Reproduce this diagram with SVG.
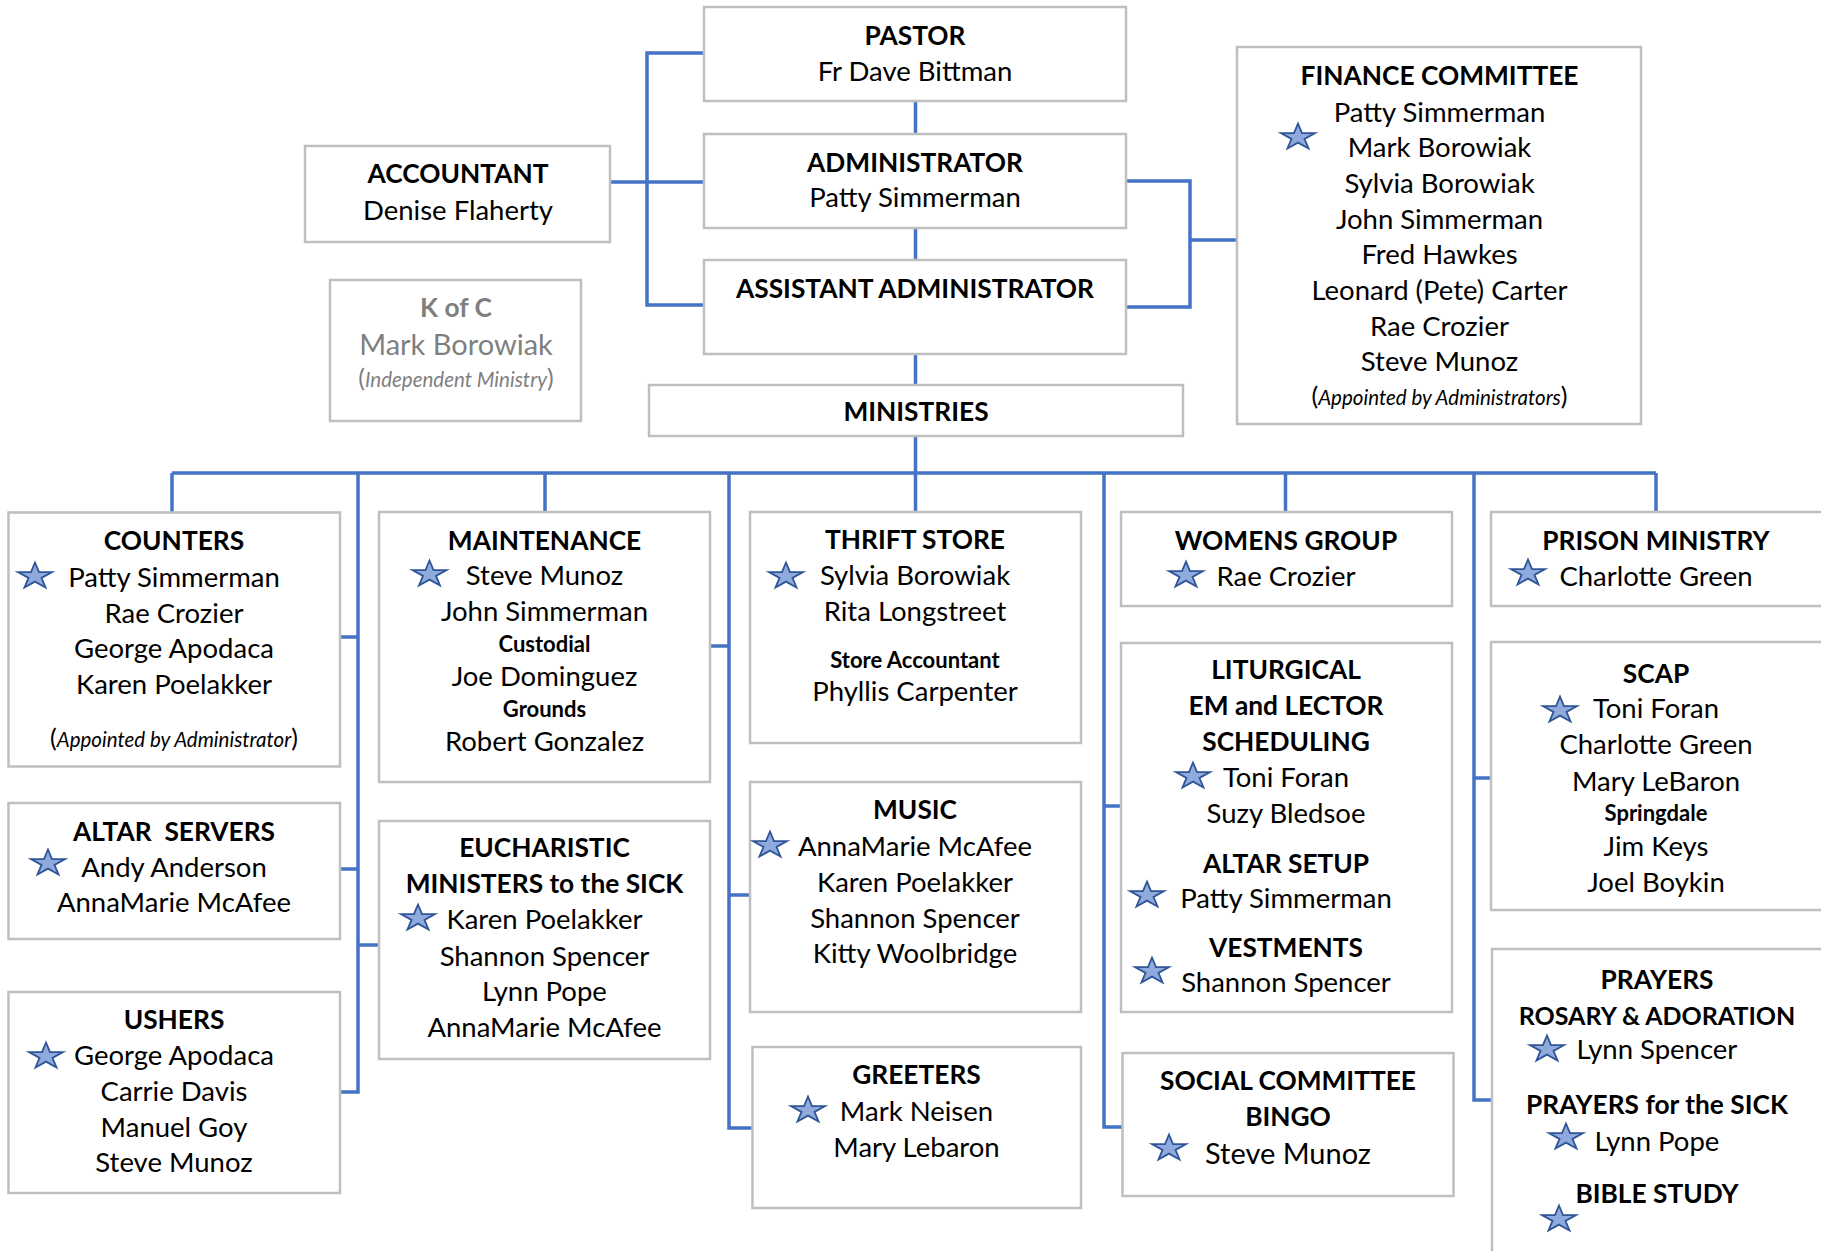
<svg xmlns="http://www.w3.org/2000/svg" xmlns:xlink="http://www.w3.org/1999/xlink" width="1821" height="1251" viewBox="0 0 1821 1251">
<style>
.t{font-family:Lato,"Open Sans","Liberation Sans",sans-serif;font-size:27.5px;fill:#000;text-anchor:middle}
.b{font-weight:bold;font-size:26.3px}
.sb{font-weight:bold;font-size:22px}
.it{font-style:italic;font-size:20.5px}
.par{font-style:normal;font-size:25px}
.g{fill:#7F7F7F}
.box{fill:#fff;stroke:#BFBFBF;stroke-width:2.5}
.ln{stroke:#4472C4;stroke-width:3.5;fill:none}
.star{fill:#8FAADC;stroke:#2F5597;stroke-width:1.8;stroke-linejoin:miter}
</style>
<defs>
<path id="star" class="star" d="M0,-12.5 L4,-2.95 L17,-2.95 L6.5,2.95 L10.5,12.5 L0,6.6 L-10.5,12.5 L-6.5,2.95 L-17,-2.95 L-4,-2.95 Z"/>
</defs>
<rect width="1821" height="1251" fill="#fff"/>

<g id="connectors">
<path class="ln" d="M704,53 H647 V305 H704"/>
<path class="ln" d="M610,182 H704"/>
<path class="ln" d="M915.5,101 V134 M915.5,228 V260 M915.5,354 V385 M915.5,436 V512"/>
<path class="ln" d="M1126,181 H1190 V307 H1126 M1190,240 H1237"/>
<path class="ln" d="M172,473 H1656 M172,473 V512 M545,473 V512 M1285.5,473 V512 M1656,473 V512"/>
<path class="ln" d="M358,473 V1092 H340 M340,637 H358 M340,869 H358 M358,945 H379"/>
<path class="ln" d="M729,473 V1128 H752 M710,646 H729 M729,895 H750"/>
<path class="ln" d="M1104,473 V1127 H1122 M1104,806 H1121"/>
<path class="ln" d="M1474,473 V1100 H1492 M1474,778 H1491"/>
</g>

<g id="pastor">
<rect class="box" x="704" y="7" width="422" height="94"/>
<text class="t b" x="915" y="45">PASTOR</text>
<text class="t" x="915" y="81">Fr Dave Bittman</text>
</g>
<g id="administrator">
<rect class="box" x="704" y="134" width="422" height="94"/>
<text class="t b" x="915" y="172">ADMINISTRATOR</text>
<text class="t" x="915" y="207">Patty Simmerman</text>
</g>
<g id="assistant-administrator">
<rect class="box" x="704" y="260" width="422" height="94"/>
<text class="t b" x="915" y="298">ASSISTANT ADMINISTRATOR</text>
</g>
<g id="ministries">
<rect class="box" x="649" y="385" width="534" height="51"/>
<text class="t b" x="916" y="421">MINISTRIES</text>
</g>
<g id="accountant">
<rect class="box" x="305" y="146" width="305" height="96"/>
<text class="t b" x="458" y="183">ACCOUNTANT</text>
<text class="t" x="458" y="220">Denise Flaherty</text>
</g>
<g id="k-of-c">
<rect class="box" x="330" y="280" width="251" height="141"/>
<text class="t b g" x="456" y="317">K of C</text>
<text class="t g" x="456" y="355" style="font-size:29px">Mark Borowiak</text>
<text class="t it g" x="456" y="387"><tspan class="par">(</tspan>Independent Ministry<tspan class="par">)</tspan></text>
</g>
<g id="finance-committee">
<rect class="box" x="1237" y="47" width="404" height="377"/>
<text class="t b" x="1439.5" y="85">FINANCE COMMITTEE</text>
<text class="t" x="1439.5" y="121.5">Patty Simmerman</text>
<text class="t" x="1439.5" y="157">Mark Borowiak</text>
<text class="t" x="1439.5" y="193">Sylvia Borowiak</text>
<text class="t" x="1439.5" y="229">John Simmerman</text>
<text class="t" x="1439.5" y="264">Fred Hawkes</text>
<text class="t" x="1439.5" y="300">Leonard (Pete) Carter</text>
<text class="t" x="1439.5" y="335.5">Rae Crozier</text>
<text class="t" x="1439.5" y="371">Steve Munoz</text>
<text class="t it" x="1439.5" y="405"><tspan class="par">(</tspan>Appointed by Administrators<tspan class="par">)</tspan></text>
<use xlink:href="#star" href="#star" x="1298" y="136"/>
</g>

<g id="counters">
<rect class="box" x="8.5" y="512.5" width="331.5" height="254"/>
<text class="t b" x="174" y="550">COUNTERS</text>
<text class="t" x="174" y="586.5">Patty Simmerman</text>
<text class="t" x="174" y="622.5">Rae Crozier</text>
<text class="t" x="174" y="658">George Apodaca</text>
<text class="t" x="174" y="694">Karen Poelakker</text>
<text class="t it" x="174" y="747"><tspan class="par">(</tspan>Appointed by Administrator<tspan class="par">)</tspan></text>
<use xlink:href="#star" href="#star" x="35" y="575"/>
</g>
<g id="altar-servers">
<rect class="box" x="8.5" y="803" width="331.5" height="136"/>
<text class="t b" x="174" y="841" xml:space="preserve">ALTAR  SERVERS</text>
<text class="t" x="174" y="877">Andy Anderson</text>
<text class="t" x="174" y="912">AnnaMarie McAfee</text>
<use xlink:href="#star" href="#star" x="48" y="862"/>
</g>
<g id="ushers">
<rect class="box" x="8.5" y="992" width="331.5" height="201"/>
<text class="t b" x="174" y="1029">USHERS</text>
<text class="t" x="174" y="1065">George Apodaca</text>
<text class="t" x="174" y="1101">Carrie Davis</text>
<text class="t" x="174" y="1137">Manuel Goy</text>
<text class="t" x="174" y="1172">Steve Munoz</text>
<use xlink:href="#star" href="#star" x="46" y="1055"/>
</g>

<g id="maintenance">
<rect class="box" x="379" y="512" width="331" height="270"/>
<text class="t b" x="544.5" y="549.5">MAINTENANCE</text>
<text class="t" x="544.5" y="585">Steve Munoz</text>
<text class="t" x="544.5" y="621">John Simmerman</text>
<text class="t sb" x="544.5" y="652">Custodial</text>
<text class="t" x="544.5" y="686">Joe Dominguez</text>
<text class="t sb" x="544.5" y="717">Grounds</text>
<text class="t" x="544.5" y="751">Robert Gonzalez</text>
<use xlink:href="#star" href="#star" x="429.5" y="573"/>
</g>
<g id="eucharistic-ministers">
<rect class="box" x="379" y="821" width="331" height="238"/>
<text class="t b" x="544.5" y="857">EUCHARISTIC</text>
<text class="t b" x="544.5" y="893">MINISTERS to the SICK</text>
<text class="t" x="544.5" y="929">Karen Poelakker</text>
<text class="t" x="544.5" y="966">Shannon Spencer</text>
<text class="t" x="544.5" y="1001">Lynn Pope</text>
<text class="t" x="544.5" y="1037">AnnaMarie McAfee</text>
<use xlink:href="#star" href="#star" x="418" y="917"/>
</g>

<g id="thrift-store">
<rect class="box" x="750" y="512" width="331" height="231"/>
<text class="t b" x="915" y="549">THRIFT STORE</text>
<text class="t" x="915" y="585">Sylvia Borowiak</text>
<text class="t" x="915" y="621">Rita Longstreet</text>
<text class="t sb" x="915" y="668">Store Accountant</text>
<text class="t" x="915" y="701">Phyllis Carpenter</text>
<use xlink:href="#star" href="#star" x="786" y="575"/>
</g>
<g id="music">
<rect class="box" x="750" y="782" width="331" height="230"/>
<text class="t b" x="915" y="819">MUSIC</text>
<text class="t" x="915" y="856">AnnaMarie McAfee</text>
<text class="t" x="915" y="892">Karen Poelakker</text>
<text class="t" x="915" y="928">Shannon Spencer</text>
<text class="t" x="915" y="963">Kitty Woolbridge</text>
<use xlink:href="#star" href="#star" x="770" y="844"/>
</g>
<g id="greeters">
<rect class="box" x="752.5" y="1047" width="328.5" height="161"/>
<text class="t b" x="916.5" y="1084">GREETERS</text>
<text class="t" x="916.5" y="1121">Mark Neisen</text>
<text class="t" x="916.5" y="1157">Mary Lebaron</text>
<use xlink:href="#star" href="#star" x="808" y="1109"/>
</g>

<g id="womens-group">
<rect class="box" x="1121" y="512" width="331" height="94"/>
<text class="t b" x="1286" y="549.5">WOMENS GROUP</text>
<text class="t" x="1286" y="586">Rae Crozier</text>
<use xlink:href="#star" href="#star" x="1186" y="574"/>
</g>
<g id="liturgical">
<rect class="box" x="1121" y="643" width="331" height="369"/>
<text class="t b" x="1286" y="679">LITURGICAL</text>
<text class="t b" x="1286" y="715">EM and LECTOR</text>
<text class="t b" x="1286" y="751">SCHEDULING</text>
<text class="t" x="1286" y="787">Toni Foran</text>
<text class="t" x="1286" y="823">Suzy Bledsoe</text>
<text class="t b" x="1286" y="872.5">ALTAR SETUP</text>
<text class="t" x="1286" y="908">Patty Simmerman</text>
<text class="t b" x="1286" y="957">VESTMENTS</text>
<text class="t" x="1286" y="992">Shannon Spencer</text>
<use xlink:href="#star" href="#star" x="1193" y="775"/>
<use xlink:href="#star" href="#star" x="1147" y="894"/>
<use xlink:href="#star" href="#star" x="1152" y="970"/>
</g>
<g id="social-committee">
<rect class="box" x="1122.5" y="1053" width="331" height="143"/>
<text class="t b" x="1288" y="1090">SOCIAL COMMITTEE</text>
<text class="t b" x="1288" y="1126">BINGO</text>
<text class="t" x="1288" y="1164" style="font-size:29px">Steve Munoz</text>
<use xlink:href="#star" href="#star" x="1169" y="1147"/>
</g>

<g id="prison-ministry">
<rect class="box" x="1491" y="512" width="340" height="94"/>
<text class="t b" x="1656" y="549.5">PRISON MINISTRY</text>
<text class="t" x="1656" y="586">Charlotte Green</text>
<use xlink:href="#star" href="#star" x="1528" y="572"/>
</g>
<g id="scap">
<rect class="box" x="1491" y="642" width="340" height="268"/>
<text class="t b" x="1656" y="683">SCAP</text>
<text class="t" x="1656" y="718">Toni Foran</text>
<text class="t" x="1656" y="754">Charlotte Green</text>
<text class="t" x="1656" y="791">Mary LeBaron</text>
<text class="t sb" x="1656" y="821">Springdale</text>
<text class="t" x="1656" y="856">Jim Keys</text>
<text class="t" x="1656" y="892">Joel Boykin</text>
<use xlink:href="#star" href="#star" x="1560" y="709"/>
</g>
<g id="prayers">
<rect class="box" x="1492" y="949" width="340" height="320"/>
<text class="t b" x="1657" y="989">PRAYERS</text>
<text class="t b" x="1657" y="1025" style="font-size:25px">ROSARY &amp; ADORATION</text>
<text class="t" x="1657" y="1059">Lynn Spencer</text>
<text class="t b" x="1657" y="1114">PRAYERS for the SICK</text>
<text class="t" x="1657" y="1151">Lynn Pope</text>
<text class="t b" x="1657" y="1203">BIBLE STUDY</text>
<use xlink:href="#star" href="#star" x="1547" y="1048"/>
<use xlink:href="#star" href="#star" x="1566" y="1136"/>
<use xlink:href="#star" href="#star" x="1559" y="1218"/>
</g>
</svg>
